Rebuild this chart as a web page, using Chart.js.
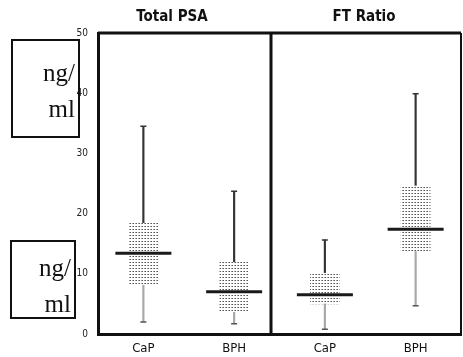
<!DOCTYPE html>
<html>
<head>
<meta charset="utf-8">
<script src="https://cdn.jsdelivr.net/npm/chart.js@4.4.0/dist/chart.umd.min.js"></script>
<style>
  html, body { margin: 0; padding: 0; background: #fff; overflow: hidden; }
  #wrap { position: relative; width: 463px; height: 357px; }
  #grafico { display: block; }
  .unit { position: absolute; border: 2px solid #111; box-sizing: border-box;
          font-family: "Liberation Serif", "Times New Roman", serif; font-size: 25px;
          color: #111; text-align: right; line-height: 36px; padding-right: 3px; }
  .ttl { position: absolute; top: 7px; font-family: "Liberation Sans Narrow", "DejaVu Sans Condensed", sans-serif;
         font-weight: bold; font-size: 15px; color: #111; transform: translateX(-50%); white-space: nowrap; }
</style>
</head>
<body>
<div id="wrap">
  <canvas id="grafico" width="463" height="357"></canvas>
  <div class="unit" style="left:11px;top:39px;width:69px;height:99px;padding-top:14px;">ng/<br>ml</div>
  <div class="unit" style="left:10px;top:240px;width:66px;height:79px;padding-top:8px;">ng/<br>ml</div>
  <div class="ttl" id="t1" style="left:172px;"></div>
  <div class="ttl" id="t2" style="left:364px;"></div>
</div>
<script>
// datos
const categorias = ["CaP", "BPH", "CaP", "BPH"]
const titulos = ["Total PSA", "FT Ratio"]
const bigoteMin = [2.0, 1.7, 0.8, 4.7]
const cuartil1 = [8.1, 3.6, 5.0, 13.7]
const mediana = [13.4, 7.0, 6.5, 17.4]
const cuartil3 = [18.5, 12.0, 10.2, 24.7]
const bigoteMax = [34.5, 23.7, 15.6, 39.9]
const ticksY = [0, 10, 20, 30, 40, 50]

document.getElementById("t1").textContent = titulos[0]
document.getElementById("t2").textContent = titulos[1]

// trama punteada de las cajas
var tile = document.createElement("canvas")
tile.width = 3; tile.height = 3
var tc = tile.getContext("2d")
tc.fillStyle = "#555"
tc.fillRect(1, 1, 1, 1)
tc.fillStyle = "#999"
tc.fillRect(0, 1, 1, 1)
var trama = tile.getContext("2d").createPattern(tile, "repeat")

var fuente = "'Liberation Sans Narrow', 'DejaVu Sans Condensed', sans-serif"

// marco superior, derecho y division entre paneles
const marco = {
  id: "marco",
  afterDraw(chart) {
    const { ctx, chartArea } = chart
    const x = chart.scales.x
    ctx.save()
    ctx.strokeStyle = "#111"
    ctx.lineWidth = 3
    ctx.beginPath()
    ctx.moveTo(chartArea.left, chartArea.top)
    ctx.lineTo(chartArea.right, chartArea.top)
    ctx.stroke()
    ctx.lineWidth = 2
    ctx.beginPath()
    ctx.moveTo(chartArea.right, chartArea.top)
    ctx.lineTo(chartArea.right, chartArea.bottom)
    ctx.stroke()
    ctx.lineWidth = 3
    var xd = Math.round(x.getPixelForValue(1.41))
    ctx.beginPath()
    ctx.moveTo(xd, chartArea.top)
    ctx.lineTo(xd, chartArea.bottom)
    ctx.stroke()
    ctx.restore()
  }
}

var ctx = document.getElementById("grafico").getContext("2d")
var cajas = new Chart(ctx, {
  type: "bar",
  data: {
    labels: categorias,
    datasets: [
      {
        type: "line",
        data: mediana,
        showLine: false,
        pointStyle: "line",
        pointRadius: 28,
        pointBorderWidth: 3,
        borderColor: "#1a1a1a",
        order: 0
      },
      {
        type: "line",
        data: bigoteMax,
        showLine: false,
        pointStyle: "line",
        pointRadius: 3,
        pointBorderWidth: 1.5,
        borderColor: "#333",
        order: 1
      },
      {
        type: "line",
        data: bigoteMin,
        showLine: false,
        pointStyle: "line",
        pointRadius: 3,
        pointBorderWidth: 1.5,
        borderColor: "#555",
        order: 1
      },
      {
        data: cuartil1.map((v, i) => [v, cuartil3[i]]),
        backgroundColor: trama,
        borderWidth: 0,
        barThickness: 29,
        grouped: false,
        order: 2
      },
      {
        data: cuartil3.map((v, i) => [v, bigoteMax[i]]),
        backgroundColor: "#333",
        borderWidth: 0,
        barThickness: 1.5,
        grouped: false,
        order: 3
      },
      {
        data: bigoteMin.map((v, i) => [v, cuartil1[i]]),
        backgroundColor: "#a8a8a8",
        borderWidth: 0,
        barThickness: 1.5,
        grouped: false,
        order: 3
      }
    ]
  },
  options: {
    responsive: false,
    animation: false,
    layout: { autoPadding: false, padding: { top: 33, right: 2, left: 0, bottom: 0 } },
    plugins: { legend: { display: false }, tooltip: { enabled: false } },
    scales: {
      x: {
        afterFit(s) { s.height = 23 },
        grid: { display: false, drawTicks: false },
        border: { color: "#111", width: 3 },
        ticks: { color: "#111", padding: 7, font: { family: fuente, size: 13 } }
      },
      y: {
        min: 0,
        max: 50,
        afterFit(s) { s.width = 98 },
        afterBuildTicks(s) { s.ticks = ticksY.map(v => ({ value: v })) },
        grid: { display: false, drawTicks: false },
        border: { color: "#111", width: 3 },
        ticks: { color: "#222", padding: 10, font: { family: fuente, size: 10 } }
      }
    }
  },
  plugins: [marco]
})
</script>
</body>
</html>
